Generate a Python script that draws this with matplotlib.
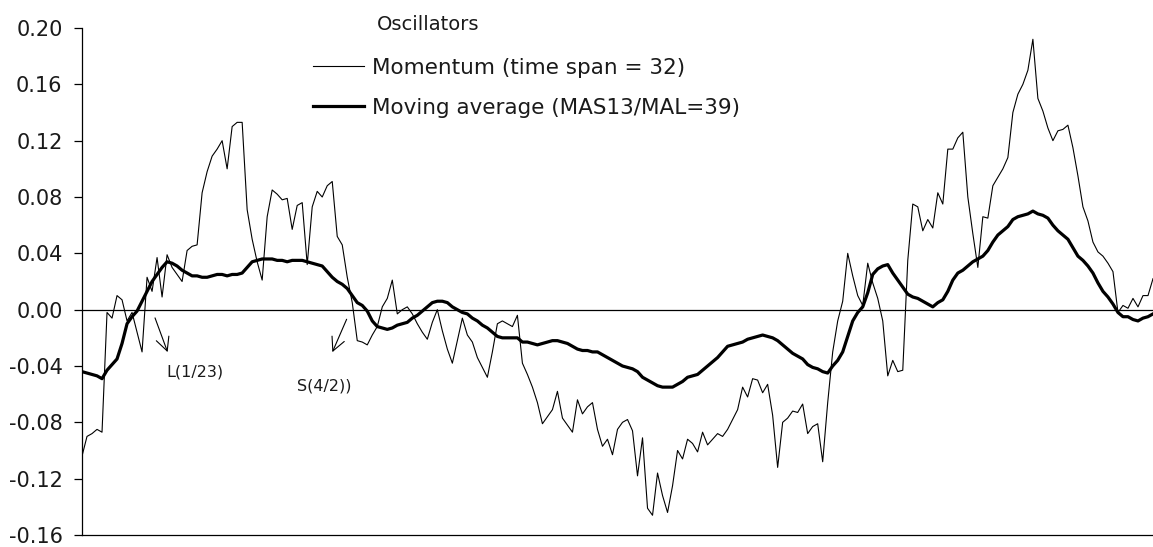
import numpy as np
import matplotlib
matplotlib.use('Agg')
import matplotlib.pyplot as plt

# momentum oscillator (time span = 32), one value per period
momentum = [
    -0.104, -0.090, -0.088, -0.085, -0.087, -0.002, -0.006, 0.010, 0.007, -0.008,
    -0.002, -0.016, -0.030, 0.023, 0.013, 0.037, 0.009, 0.039, 0.030, 0.025,
    0.020, 0.042, 0.045, 0.046, 0.083, 0.098, 0.109, 0.114, 0.120, 0.100,
    0.130, 0.133, 0.133, 0.071, 0.050, 0.034, 0.021, 0.066, 0.085, 0.082,
    0.078, 0.079, 0.057, 0.074, 0.076, 0.032, 0.073, 0.084, 0.080, 0.088,
    0.091, 0.052, 0.046, 0.023, 0.005, -0.022, -0.023, -0.025, -0.018, -0.012,
    0.002, 0.008, 0.021, -0.003, 0.000, 0.002, -0.003, -0.010, -0.016, -0.021,
    -0.009, 0.000, -0.015, -0.028, -0.038, -0.022, -0.006, -0.018, -0.023, -0.034,
    -0.041, -0.048, -0.030, -0.010, -0.008, -0.010, -0.012, -0.004, -0.038, -0.046,
    -0.055, -0.066, -0.081, -0.076, -0.071, -0.058, -0.077, -0.082, -0.087, -0.064,
    -0.074, -0.069, -0.066, -0.085, -0.097, -0.092, -0.103, -0.085, -0.080, -0.078,
    -0.086, -0.118, -0.091, -0.141, -0.146, -0.116, -0.132, -0.144, -0.125, -0.100,
    -0.106, -0.092, -0.095, -0.101, -0.087, -0.096, -0.092, -0.088, -0.090, -0.085,
    -0.078, -0.071, -0.055, -0.062, -0.049, -0.050, -0.059, -0.053, -0.075, -0.112,
    -0.080, -0.077, -0.072, -0.073, -0.067, -0.088, -0.083, -0.081, -0.108, -0.066,
    -0.030, -0.008, 0.006, 0.040, 0.024, 0.010, 0.003, 0.033, 0.019, 0.008,
    -0.008, -0.047, -0.036, -0.044, -0.043, 0.035, 0.075, 0.073, 0.056, 0.064,
    0.058, 0.083, 0.075, 0.114, 0.114, 0.122, 0.126, 0.080, 0.054, 0.030,
    0.066, 0.065, 0.088, 0.094, 0.100, 0.108, 0.140, 0.153, 0.160, 0.170,
    0.192, 0.150, 0.141, 0.129, 0.120, 0.127, 0.128, 0.131, 0.115, 0.095,
    0.073, 0.063, 0.048, 0.041, 0.038, 0.033, 0.027, -0.002, 0.003, 0.001,
    0.008, 0.002, 0.010, 0.010, 0.022,
]

# moving average oscillator (MAS13 / MAL=39)
moving_avg = [
    -0.044, -0.045, -0.046, -0.047, -0.049, -0.043, -0.039, -0.035, -0.024, -0.010,
    -0.005, -0.001, 0.006, 0.013, 0.020, 0.025, 0.030, 0.034, 0.033, 0.031,
    0.028, 0.026, 0.024, 0.024, 0.023, 0.023, 0.024, 0.025, 0.025, 0.024,
    0.025, 0.025, 0.026, 0.030, 0.034, 0.035, 0.036, 0.036, 0.036, 0.035,
    0.035, 0.034, 0.035, 0.035, 0.035, 0.034, 0.033, 0.032, 0.031, 0.027,
    0.023, 0.020, 0.018, 0.015, 0.010, 0.005, 0.003, -0.001, -0.008, -0.012,
    -0.013, -0.014, -0.013, -0.011, -0.010, -0.009, -0.006, -0.004, -0.001, 0.002,
    0.005, 0.006, 0.006, 0.005, 0.002, 0.000, -0.002, -0.003, -0.006, -0.008,
    -0.011, -0.013, -0.016, -0.019, -0.020, -0.020, -0.020, -0.020, -0.023, -0.023,
    -0.024, -0.025, -0.024, -0.023, -0.022, -0.022, -0.023, -0.024, -0.026, -0.028,
    -0.029, -0.029, -0.030, -0.030, -0.032, -0.034, -0.036, -0.038, -0.040, -0.041,
    -0.042, -0.044, -0.048, -0.050, -0.052, -0.054, -0.055, -0.055, -0.055, -0.053,
    -0.051, -0.048, -0.047, -0.046, -0.043, -0.040, -0.037, -0.034, -0.030, -0.026,
    -0.025, -0.024, -0.023, -0.021, -0.020, -0.019, -0.018, -0.019, -0.020, -0.022,
    -0.025, -0.028, -0.031, -0.033, -0.035, -0.039, -0.041, -0.042, -0.044, -0.045,
    -0.040, -0.036, -0.030, -0.019, -0.008, -0.002, 0.002, 0.012, 0.025, 0.029,
    0.031, 0.032, 0.026, 0.021, 0.016, 0.011, 0.009, 0.008, 0.006, 0.004,
    0.002, 0.005, 0.007, 0.013, 0.021, 0.026, 0.028, 0.031, 0.034, 0.036,
    0.038, 0.042, 0.048, 0.053, 0.056, 0.059, 0.064, 0.066, 0.067, 0.068,
    0.070, 0.068, 0.067, 0.065, 0.060, 0.056, 0.053, 0.050, 0.044, 0.038,
    0.035, 0.031, 0.026, 0.019, 0.013, 0.009, 0.004, -0.002, -0.005, -0.005,
    -0.007, -0.008, -0.006, -0.005, -0.003,
]

yticks = [0.20, 0.16, 0.12, 0.08, 0.04, 0.00, -0.04, -0.08, -0.12, -0.16]

# signal annotations: label, arrow tail (x, y), arrow head (x, y), label pos (x, y)
signals = [
    ('L(1/23)', (14.4, -0.004), (17.3, -0.032), (16.8, -0.044)),
    ('S(4/2))', (53.1, -0.005), (49.8, -0.032), (43.0, -0.054)),
]

plt.rcParams['font.family'] = 'DejaVu Sans'
plt.rcParams['text.color'] = '#1a1a1a'

x = np.arange(len(momentum))

fig = plt.figure(figsize=(11.53, 5.47), dpi=100)
ax = fig.add_axes([82 / 1153, 12 / 547, 1071 / 1153, 507 / 547])

ax.plot(x, momentum, color='black', lw=0.8, label='Momentum (time span = 32)')
ax.plot(x, moving_avg, color='black', lw=2.3, label='Moving average (MAS13/MAL=39)')
ax.axhline(0, color='black', lw=0.9)

for label, tail, head, pos in signals:
    ax.annotate('', xy=head, xytext=tail,
                arrowprops=dict(arrowstyle='->', color='black', lw=0.8,
                                mutation_scale=24))
    ax.text(pos[0], pos[1], label, fontsize=11.5, va='center', ha='left')

ax.set_xlim(0, len(momentum) - 1)
ax.set_ylim(-0.16, 0.20)
ax.set_yticks(yticks)
ax.set_yticklabels([f'{v:.2f}' for v in yticks])
ax.tick_params(axis='y', direction='out', length=6, width=0.9, pad=8,
               labelsize=15, labelcolor='#1a1a1a')
ax.set_xticks([])

for side in ['top', 'right']:
    ax.spines[side].set_visible(False)
for side in ['left', 'bottom']:
    ax.spines[side].set_linewidth(0.9)

leg = ax.legend(loc='upper left', bbox_to_anchor=(0.2157, 0.941), frameon=False,
                fontsize=15.5, handlelength=2.35, handletextpad=0.4,
                labelspacing=0.93, borderaxespad=0, borderpad=0)
ax.text(0.2754, 1.006, 'Oscillators', transform=ax.transAxes, fontsize=14,
        va='center', ha='left', clip_on=False)

plt.savefig('out.png', dpi=100)
plt.close()
